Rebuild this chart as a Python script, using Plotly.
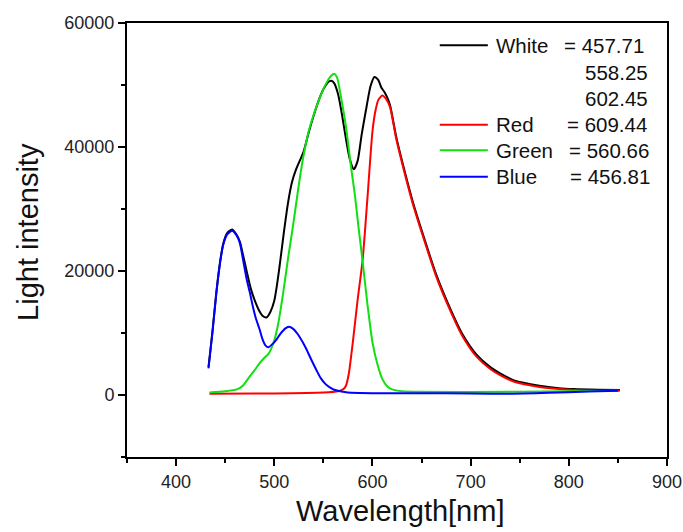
import plotly.graph_objects as go

# Emission spectra (wavelength in nm, intensity in counts)
white_nm = [433, 437, 441, 445, 448, 452, 457, 461, 465, 468, 472, 476, 480, 484, 488, 492,
            496, 500, 503, 506, 510, 514, 518, 522, 526, 530, 535, 540, 545, 550, 555, 558,
            561, 565, 569, 573, 577, 581, 585, 589, 594, 598, 602, 606, 609, 612, 615, 618,
            624, 631, 641, 651, 665, 679, 692, 706, 720, 730, 745, 770, 790, 805, 830, 852]
white_int = [4500, 10200, 16600, 21700, 24400, 26100, 26700, 26000, 24700, 22700, 19900, 17200,
             15300, 13800, 12800, 12500, 13400, 15200, 18000, 21500, 26500, 31000, 34300, 36300,
             37800, 39300, 42300, 45000, 47400, 49300, 50500, 50700, 50300, 48500, 45200, 41300,
             38000, 36400, 37800, 42000, 46500, 49800, 51300, 50800, 49600, 48900, 48000, 46700,
             41800, 37200, 31200, 26100, 19400, 14000, 9700, 6500, 4500, 3500, 2300, 1500, 1100,
             950, 850, 800]

red_nm = [434, 500, 550, 565, 570, 573, 576, 580, 585, 590, 595, 600, 603, 606, 610, 614, 618,
          624, 631, 641, 651, 665, 679, 692, 706, 720, 730, 745, 770, 790, 805, 830, 852]
red_int = [200, 250, 400, 600, 900, 1500, 3500, 8500, 15500, 21800, 32000, 42500, 45800, 47600,
           48300, 47700, 46400, 41500, 36900, 30900, 25800, 19100, 13700, 9400, 6200, 4200, 3200,
           2100, 1300, 950, 800, 700, 700]

green_nm = [434, 450, 462, 468, 475, 480, 485, 490, 494, 500, 504, 509, 514, 519, 524, 529, 535,
            541, 547, 553, 558, 561, 564, 568, 573, 578, 582, 586, 590, 595, 600, 605, 610, 615,
            620, 630, 700, 800, 850]
green_int = [400, 600, 900, 1500, 3000, 4000, 5100, 6000, 6600, 8800, 11500, 16400, 22000, 27200,
             32800, 37900, 42500, 45600, 48200, 50300, 51500, 51800, 51200, 48000, 43300, 37000,
             32400, 26800, 21500, 14500, 8500, 5000, 2600, 1400, 900, 600, 500, 600, 700]

blue_nm = [433, 437, 441, 445, 448, 452, 457, 461, 465, 468, 472, 475, 478, 481, 485, 488, 491,
           494, 498, 502, 506, 511, 515, 519, 524, 529, 533, 538, 543, 547, 552, 557, 562, 567,
           575, 600, 650, 700, 740, 780, 820, 850]
blue_int = [4300, 10000, 16400, 21500, 24200, 25900, 26500, 25900, 24500, 22000, 18600, 16600,
            14400, 12500, 10600, 9000, 8000, 7700, 8200, 8900, 9800, 10700, 11000, 10700, 9800,
            8500, 7300, 5600, 4000, 2800, 1800, 1200, 800, 600, 400, 300, 300, 250, 200, 350,
            550, 700]

x_ticks = [400, 500, 600, 700, 800, 900]
y_ticks = [0, 20000, 40000, 60000]

series = [
    ("White", white_nm, white_int, "#000000"),
    ("Red", red_nm, red_int, "#ff0000"),
    ("Green", green_nm, green_int, "#10e010"),
    ("Blue", blue_nm, blue_int, "#0000ff"),
]

fig = go.Figure()
for name, xs, ys, color in series:
    fig.add_trace(go.Scatter(
        x=xs, y=ys, mode="lines", name=name,
        line=dict(color=color, width=2, shape="spline", smoothing=0.6),
        showlegend=False,
    ))

font_family = "Liberation Sans, Arial, sans-serif"

axis_common = dict(
    showline=True, linecolor="black", linewidth=2, mirror=True,
    showgrid=False, zeroline=False, automargin=False,
    ticks="outside", ticklen=7, tickwidth=1.5, tickcolor="black",
    tickfont=dict(family=font_family, size=18, color="#222222"),
)

fig.update_xaxes(
    range=[350, 900], tickvals=x_ticks, ticktext=[str(v) for v in x_ticks],
    minor=dict(dtick=50, tick0=350, ticks="outside", ticklen=4, tickwidth=1.5, tickcolor="black"),
    **axis_common,
)
fig.update_yaxes(
    range=[-10000, 60000], tickvals=y_ticks, ticktext=[str(v) for v in y_ticks],
    minor=dict(dtick=10000, tick0=0, ticks="outside", ticklen=4, tickwidth=1.5, tickcolor="black"),
    **axis_common,
)

# Axis titles
annotations = [
    dict(text="Wavelength[nm]", xref="paper", yref="paper", x=0.506, y=-0.124,
         xanchor="center", yanchor="middle", showarrow=False,
         font=dict(family=font_family, size=29, color="#111111")),
    dict(text="Light intensity", xref="paper", yref="paper", x=-0.183, y=0.519,
         xanchor="center", yanchor="middle", textangle=-90, showarrow=False,
         font=dict(family=font_family, size=29, color="#111111")),
]

# Legend with peak wavelengths
legend_rows = [
    # (line colour or None, name, value text, row y, value x)
    ("#000000", "White", "= 457.71", 0.9488, 0.8048),
    (None, "", "558.25", 0.8866, 0.8437),
    (None, "", "602.45", 0.8267, 0.8437),
    ("#ff0000", "Red", "= 609.44", 0.7657, 0.8109),
    ("#10e010", "Green", "= 560.66", 0.7069, 0.8141),
    ("#0000ff", "Blue", "= 456.81", 0.6459, 0.8165),
]
shapes = []
legend_font = dict(family=font_family, size=20.5, color="#111111")
for color, name, value, yrow, xval in legend_rows:
    if color:
        shapes.append(dict(type="line", xref="paper", yref="paper",
                           x0=0.5792, x1=0.6682, y0=yrow, y1=yrow,
                           line=dict(color=color, width=2)))
        annotations.append(dict(text=name, xref="paper", yref="paper", x=0.679, y=yrow,
                                xanchor="left", yanchor="middle", showarrow=False,
                                font=legend_font))
    annotations.append(dict(text=value, xref="paper", yref="paper", x=xval, y=yrow,
                            xanchor="left", yanchor="middle", showarrow=False,
                            font=legend_font))

fig.update_layout(
    width=683, height=532,
    margin=dict(l=127, r=16, t=23, b=75),
    paper_bgcolor="white", plot_bgcolor="white",
    annotations=annotations, shapes=shapes,
    font=dict(family=font_family),
)

fig.write_html("out.html")
